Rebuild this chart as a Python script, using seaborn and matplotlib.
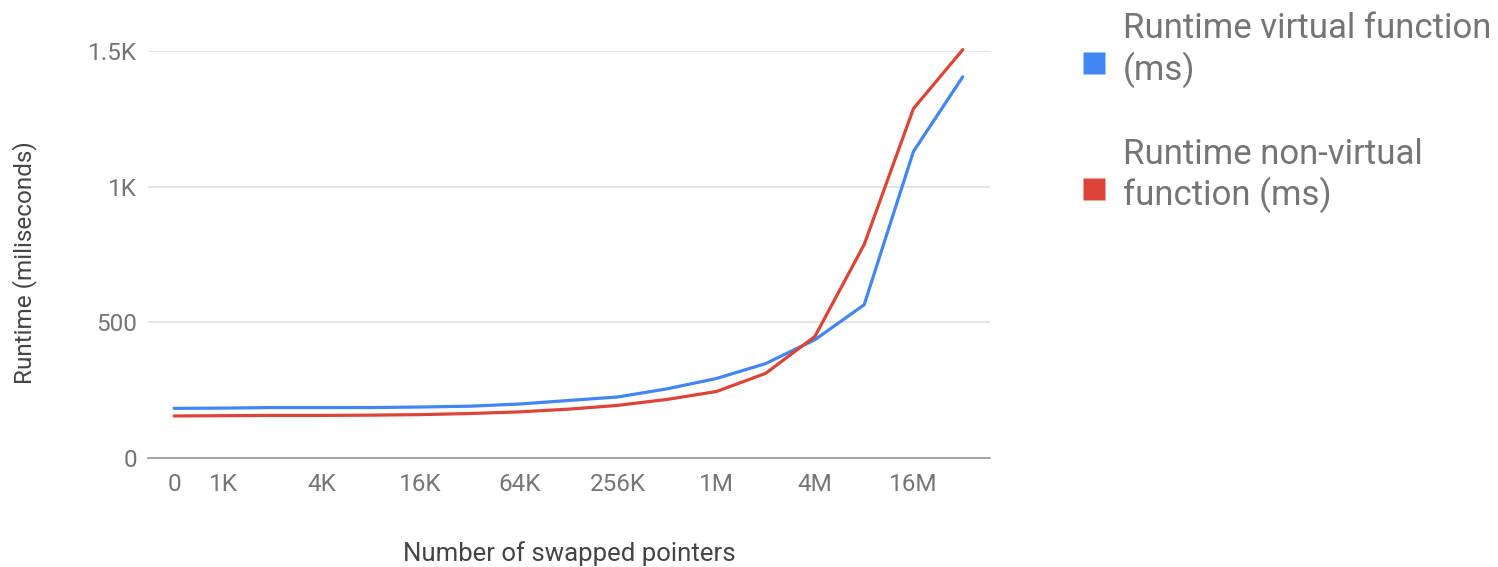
import matplotlib

matplotlib.use("Agg")
import matplotlib.pyplot as plt
import pandas as pd
import seaborn as sns
from matplotlib.lines import Line2D

# data
sizes = ["0", "1K", "2K", "4K", "8K", "16K", "32K", "64K", "128K", "256K",
         "512K", "1M", "2M", "4M", "8M", "16M", "32M"]
virtual_ms = [183, 184, 186, 186, 186, 188, 191, 199, 212, 225,
              255, 293, 348, 436, 565, 1130, 1405]
nonvirtual_ms = [155, 156, 157, 157, 158, 160, 164, 170, 180, 194,
                 216, 245, 312, 448, 787, 1288, 1505]
series_names = ["Runtime virtual function\n(ms)",
                "Runtime non-virtual\nfunction (ms)"]
shown_ticks = ["0", "1K", "4K", "16K", "64K", "256K", "1M", "4M", "16M"]
y_ticks = [0, 500, 1000, 1500]
y_tick_labels = ["0", "500", "1K", "1.5K"]

BLUE = "#4285f4"
RED = "#db4437"
TEXT = "#757575"

df = pd.DataFrame({
    "pos": list(range(len(sizes))) * 2,
    "runtime": virtual_ms + nonvirtual_ms,
    "series": [series_names[0]] * len(sizes) + [series_names[1]] * len(sizes),
})

sns.set_theme(style="white")
plt.rcParams["font.family"] = ["Roboto", "DejaVu Sans"]

fig = plt.figure(figsize=(14.98, 5.67), dpi=100)
ax = fig.add_axes([0.0988, 0.1922, 0.5620, 0.7178])

sns.lineplot(data=df, x="pos", y="runtime", hue="series",
             palette=[BLUE, RED], linewidth=2.3, legend=False, ax=ax,
             clip_on=False)

ax.set_xlim(-0.53, 16.55)
ax.set_ylim(0, 1500)
ax.set_yticks(y_ticks, y_tick_labels)
ax.set_xticks([sizes.index(s) for s in shown_ticks], shown_ticks)
ax.tick_params(axis="both", length=0, labelsize=17.5, colors=TEXT)
ax.tick_params(axis="x", pad=11)
ax.tick_params(axis="y", pad=8)

ax.grid(True, axis="y", color="#e0e0e0", linewidth=1.2)
ax.grid(False, axis="x")
for side in ("top", "right", "left"):
    ax.spines[side].set_visible(False)
ax.spines["bottom"].set_color("#9e9e9e")
ax.spines["bottom"].set_linewidth(1.3)
ax.set_axisbelow(True)

ax.set_xlabel("Number of swapped pointers", fontsize=18.5, color="#444444",
              labelpad=32)
ax.set_ylabel("Runtime (miliseconds)", fontsize=17.5, color="#444444")
ax.yaxis.set_label_coords(-0.132, 0.48)

handles = [Line2D([], [], linestyle="none", marker="s", markersize=15.5,
                  markerfacecolor=c, markeredgecolor="none")
           for c in (BLUE, RED)]
leg = fig.legend(handles, series_names, loc="upper left",
                 bbox_to_anchor=(0.723, 0.978), frameon=False, fontsize=25,
                 borderpad=0, borderaxespad=0, numpoints=1,
                 handlelength=0.63, handleheight=1.13, handletextpad=0.52,
                 labelspacing=1.45, labelcolor=TEXT)
# google-style legend: square sits next to the last line of the label
for h in leg.legend_handles:
    h.set_ydata([y - 10.5 for y in h.get_ydata()])

fig.savefig("out.png", dpi=100)
